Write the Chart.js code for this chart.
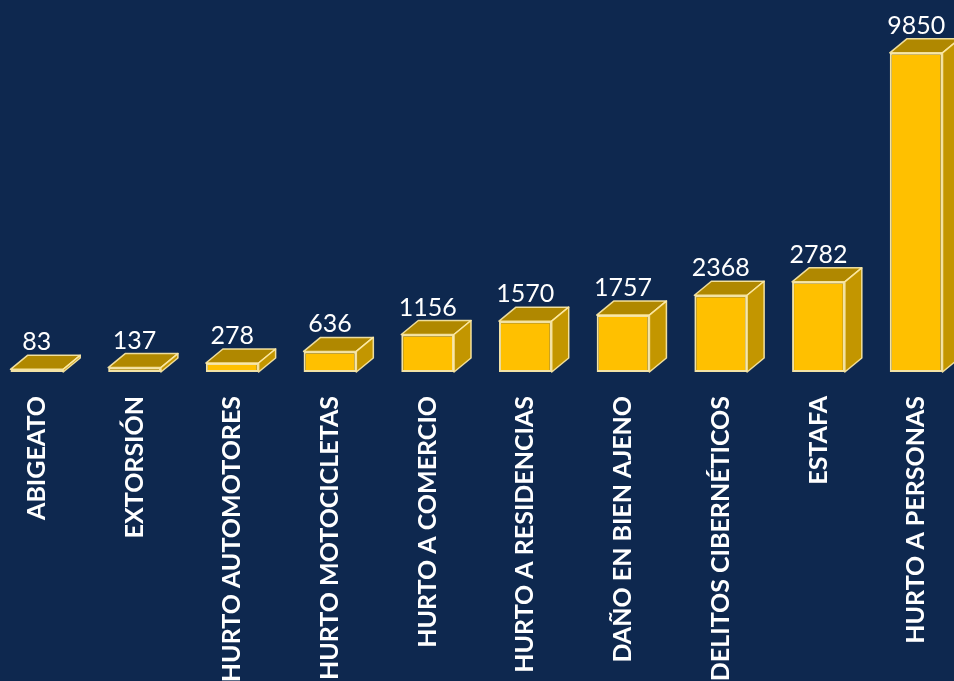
<!DOCTYPE html>
<html lang="es">
<head>
<meta charset="utf-8">
<title>Delitos</title>
<script src="https://cdn.jsdelivr.net/npm/chart.js@4"></script>
<style>
  html, body {
    margin: 0;
    padding: 0;
    width: 954px;
    height: 681px;
    overflow: hidden;
    background: #0e284f;
  }
  #chart {
    position: absolute;
    left: -12px;
    top: 0;
  }
</style>
</head>
<body>
<canvas id="chart" width="977" height="681"></canvas>
<script>
// ---- Data ----
const categories = [
  "ABIGEATO",
  "EXTORSIÓN",
  "HURTO AUTOMOTORES",
  "HURTO MOTOCICLETAS",
  "HURTO A COMERCIO",
  "HURTO A RESIDENCIAS",
  "DAÑO EN BIEN AJENO",
  "DELITOS CIBERNÉTICOS",
  "ESTAFA",
  "HURTO A PERSONAS"
];
const casos = [83, 137, 278, 636, 1156, 1570, 1757, 2368, 2782, 9850];

// 3D depth of the boxes
const DEPTH_X = 17;
const DEPTH_Y = 14;

// ---- 3D faces + value labels ----
const box3d = {
  id: "box3d",
  afterDatasetsDraw(chart) {
    const ctx = chart.ctx;
    const meta = chart.getDatasetMeta(0);
    ctx.save();
    meta.data.forEach((bar, i) => {
      const left = bar.x - bar.width / 2;
      const right = bar.x + bar.width / 2;
      const top = bar.y;
      const base = bar.base;

      ctx.lineJoin = "round";
      ctx.lineWidth = 1.5;
      ctx.strokeStyle = "rgba(255, 236, 170, 0.9)";

      // top face
      ctx.beginPath();
      ctx.moveTo(left, top);
      ctx.lineTo(right, top);
      ctx.lineTo(right + DEPTH_X, top - DEPTH_Y);
      ctx.lineTo(left + DEPTH_X, top - DEPTH_Y);
      ctx.closePath();
      ctx.fillStyle = "#b08800";
      ctx.fill();
      ctx.stroke();

      // side face
      ctx.beginPath();
      ctx.moveTo(right, top);
      ctx.lineTo(right + DEPTH_X, top - DEPTH_Y);
      ctx.lineTo(right + DEPTH_X, base - DEPTH_Y);
      ctx.lineTo(right, base);
      ctx.closePath();
      ctx.fillStyle = "#c39600";
      ctx.fill();
      ctx.stroke();

      // value label
      ctx.fillStyle = "#ffffff";
      ctx.font = "25px Lato, 'Open Sans', sans-serif";
      ctx.textAlign = "center";
      ctx.textBaseline = "alphabetic";
      ctx.fillText(String(casos[i]), bar.x, top - DEPTH_Y - 5);
    });
    ctx.restore();
  }
};

const chart = new Chart(document.getElementById("chart"), {
  type: "bar",
  data: {
    labels: categories,
    datasets: [
      {
        data: casos,
        backgroundColor: "#ffc000",
        borderColor: "rgba(255, 236, 170, 0.95)",
        borderWidth: 2,
        borderSkipped: false,
        categoryPercentage: 1,
        barPercentage: 0.54,
        clip: false
      }
    ]
  },
  options: {
    responsive: false,
    animation: false,
    layout: {
      padding: { top: 48, left: 0, right: 0, bottom: 0 }
    },
    plugins: {
      legend: { display: false },
      tooltip: { enabled: false }
    },
    scales: {
      x: {
        grid: { display: false },
        border: { display: false },
        ticks: {
          color: "#ffffff",
          font: { family: "Lato", size: 25, weight: "bold" },
          minRotation: 90,
          maxRotation: 90,
          autoSkip: false,
          padding: 16
        },
        afterFit(scale) {
          scale.height = 309;
        }
      },
      y: {
        display: false,
        min: 0,
        max: 10000
      }
    }
  },
  plugins: [box3d]
});
</script>
</body>
</html>
